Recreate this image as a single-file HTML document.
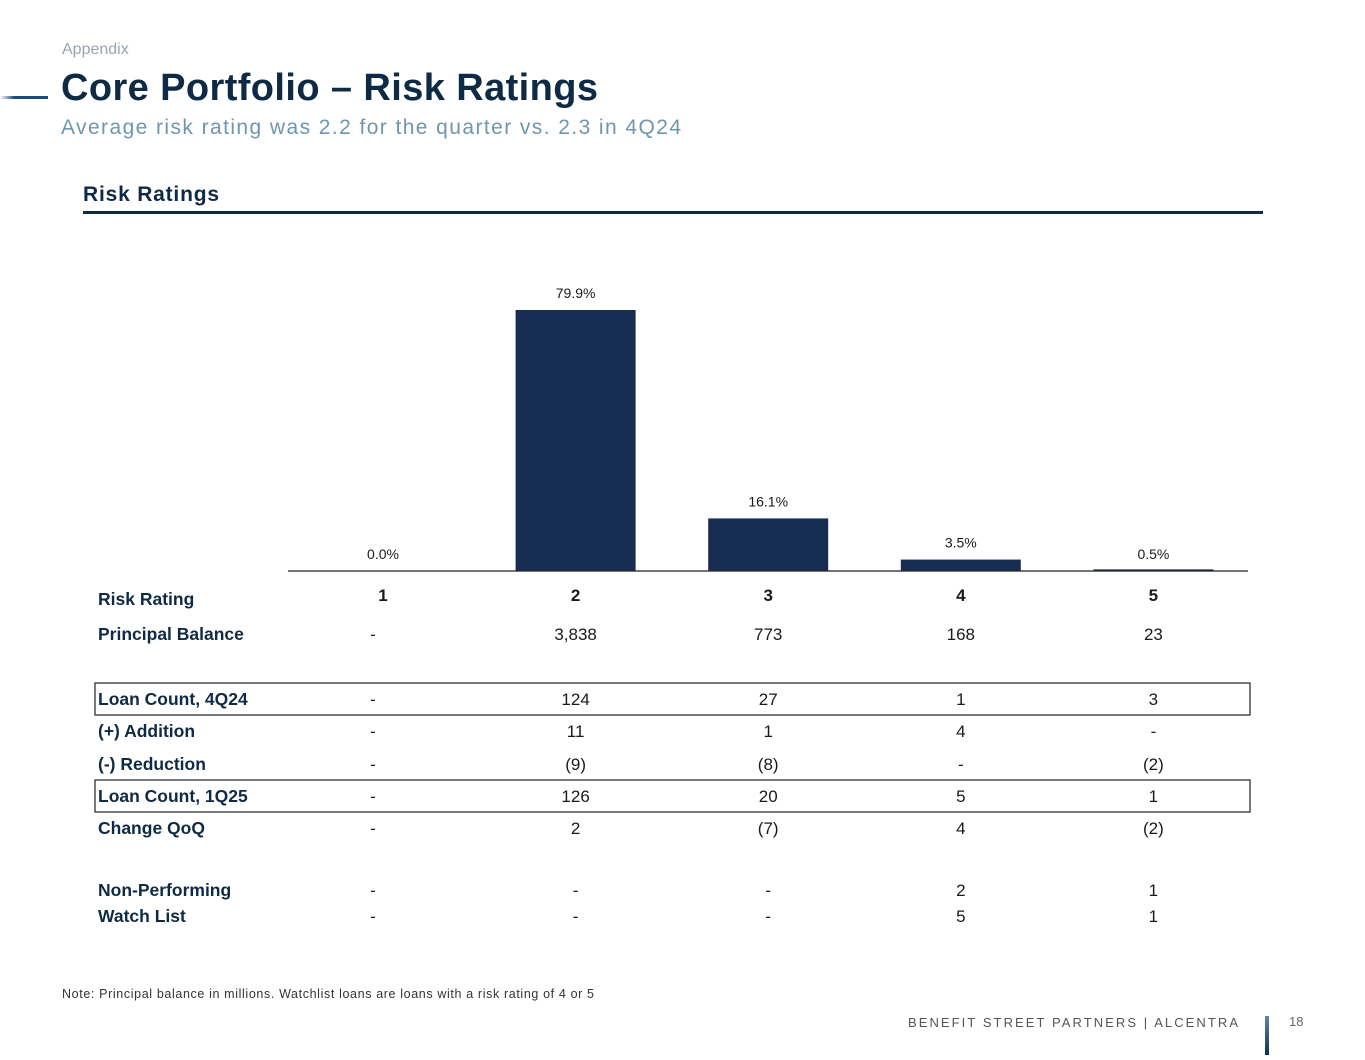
<!DOCTYPE html>
<html><head><meta charset="utf-8"><style>
html,body{margin:0;padding:0;background:#fff;}
body{width:1365px;height:1055px;overflow:hidden;font-family:"Liberation Sans",sans-serif;}
</style></head><body>
<svg id="s" width="1365" height="1055" xmlns="http://www.w3.org/2000/svg" font-family="Liberation Sans, sans-serif">
<defs><linearGradient id="g1" x1="0" x2="1"><stop offset="0" stop-color="#fff"/><stop offset="0.3" stop-color="#1d4a7a"/><stop offset="1" stop-color="#1d4a7a"/></linearGradient>
<linearGradient id="g2" x1="0" x2="0" y1="0" y2="1"><stop offset="0" stop-color="#5b86b5"/><stop offset="1" stop-color="#0f2f57"/></linearGradient></defs>
<text x="62" y="54" font-size="16" fill="#9aa4ad">Appendix</text>
<rect x="0" y="96" width="48" height="3" fill="url(#g1)"/>
<text x="61" y="100" font-size="38" font-weight="bold" fill="#0f2a44" textLength="537">Core Portfolio – Risk Ratings</text>
<text x="61" y="134" font-size="21" fill="#6f96ae" textLength="620">Average risk rating was 2.2 for the quarter vs. 2.3 in 4Q24</text>
<text x="83" y="201" font-size="21" font-weight="bold" fill="#0f2a44" textLength="136">Risk Ratings</text>
<rect x="83" y="211" width="1180" height="3" fill="#0f2a44"/>
<g id="bars"></g>
<line x1="288" y1="571" x2="1248" y2="571" stroke="#222" stroke-width="1.2"/>
<rect x="95" y="683" width="1155" height="32" fill="none" stroke="#222" stroke-width="1.2"/>
<rect x="95" y="780" width="1155" height="32" fill="none" stroke="#222" stroke-width="1.2"/>
<g id="table"></g>
<text x="62" y="998" font-size="12.5" fill="#333" textLength="532">Note: Principal balance in millions. Watchlist loans are loans with a risk rating of 4 or 5</text>
<text x="908" y="1027" font-size="13" fill="#555" letter-spacing="2" textLength="332">BENEFIT STREET PARTNERS | ALCENTRA</text>
<rect x="1265" y="1016" width="4" height="39" fill="url(#g2)"/>
<text x="1289" y="1026" font-size="13" fill="#666">18</text>
</svg>
<script>
const categories = ["1","2","3","4","5"];
const shares = [0.0, 79.9, 16.1, 3.5, 0.5];
const shareLabels = ["0.0%","79.9%","16.1%","3.5%","0.5%"];
const principal = ["-","3,838","773","168","23"];
const count4q24 = ["-","124","27","1","3"];
const additions = ["-","11","1","4","-"];
const reductions = ["-","(9)","(8)","-","(2)"];
const count1q25 = ["-","126","20","5","1"];
const changeQoQ = ["-","2","(7)","4","(2)"];
const nonPerforming = ["-","-","-","2","1"];
const watchList = ["-","-","-","5","1"];

const NS="http://www.w3.org/2000/svg";
const base=571, pxPer=261/79.9;
function xc(i){return 383+i*192.6;}
function y(v){return base-v*pxPer;}
function mk(tag,attrs,parent){const e=document.createElementNS(NS,tag);for(const k in attrs)e.setAttribute(k,attrs[k]);parent.appendChild(e);return e;}
const bars=document.getElementById('bars');
categories.forEach((c,i)=>{
  const top=y(shares[i]);
  const r=mk('rect',{x:xc(i)-60,y:top,width:120,height:Math.max(0,base-top),fill:'#172e52'},bars);
  
  
  const t=mk('text',{x:xc(i),y:(shares[i]<2?base-12:top-12),'font-size':14,'text-anchor':'middle',fill:'#1a1a1a'},bars);
  t.textContent=shareLabels[i];
  
  
});
const table=document.getElementById('table');
const rows=[
 ["Risk Rating",categories,605,601,true],
 ["Principal Balance",principal,640,640,false],
 ["Loan Count, 4Q24",count4q24,705,705,false],
 ["(+) Addition",additions,737,737,false],
 ["(-) Reduction",reductions,770,770,false],
 ["Loan Count, 1Q25",count1q25,802,802,false],
 ["Change QoQ",changeQoQ,834,834,false],
 ["Non-Performing",nonPerforming,896,896,false],
 ["Watch List",watchList,922,922,false]
];
rows.forEach(r=>{
  const lab=mk('text',{x:98,y:r[2],'font-size':17.5,'font-weight':'bold',fill:'#0f2a44'},table);
  lab.textContent=r[0];
  
  
  r[1].forEach((v,i)=>{
    let x=xc(i); if(!r[4]&&i===0) x=373;
    const t=mk('text',{x:x,y:r[3],'font-size':17,'text-anchor':'middle',fill:'#1a1a1a','font-weight':r[4]?'bold':'normal'},table);
    t.textContent=v;
    
    
  });
});
</script>
</body></html>
